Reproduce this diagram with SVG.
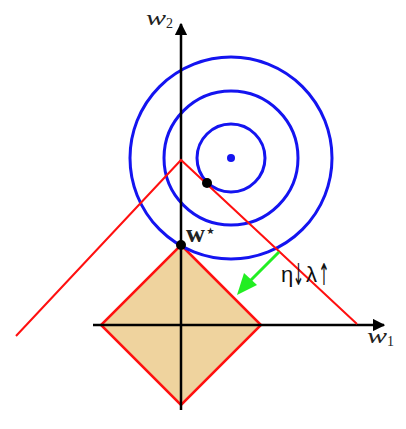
<svg xmlns="http://www.w3.org/2000/svg" width="406" height="429" viewBox="0 0 406 429">
<style>
.circ{fill:none;stroke:#1414f0;stroke-width:3}
.red{fill:none;stroke:#ff1010;stroke-width:2}
.axis{stroke:#000;stroke-width:2.5;fill:none}
.math{font-family:"Liberation Serif","DejaVu Serif",serif;font-style:italic;fill:#222}
.sub{font-family:"Liberation Serif","DejaVu Serif",serif;fill:#222}
.lbl{font-family:"Liberation Sans",Arial,sans-serif;font-size:22px;fill:#111}
.arr{font-family:"DejaVu Sans",sans-serif;font-size:30px;fill:#111}
</style>
<defs>
<marker id="ah" viewBox="0 0 10 10" refX="9" refY="5" markerWidth="5" markerHeight="5" orient="auto" markerUnits="strokeWidth">
<path d="M0,0 L10,5 L0,10 Z" fill="#000"/>
</marker>
</defs>
<g id="diamond">
<polygon points="181,245 261,325 181,405 101,325" fill="#efd39e" stroke="#ff1010" stroke-width="2.5"/>
</g>
<g id="contours">
<circle class="circ" cx="231" cy="158" r="101"/>
<circle class="circ" cx="231" cy="158" r="67"/>
<circle class="circ" cx="231" cy="158" r="34"/>
<circle cx="231" cy="158" r="4" fill="#1414f0"/>
</g>
<g id="connectors">
<line class="axis" x1="93" y1="325" x2="384" y2="325" marker-end="url(#ah)"/>
<line class="axis" x1="181" y1="410" x2="181" y2="24" marker-end="url(#ah)"/>
<polyline class="red" points="16,336 181,160 357,324"/>
<line x1="279" y1="252" x2="249" y2="282" stroke="#22ee22" stroke-width="3"/>
<polygon points="237,295 244,273 257,285" fill="#22ee22"/>
</g>
<g id="points">
<circle cx="207" cy="183" r="5" fill="#000"/>
<circle cx="181" cy="245" r="5" fill="#000"/>
</g>
<g id="labels">
<text x="186" y="242" font-family="Liberation Serif,DejaVu Serif,serif" font-weight="bold" font-size="26" fill="#222" textLength="19" lengthAdjust="spacingAndGlyphs">w</text>
<text x="210.5" y="237" text-anchor="middle" font-family="DejaVu Sans,sans-serif" font-size="19" fill="#222">⋆</text>
<text class="math" x="146" y="25" font-size="21" textLength="20" lengthAdjust="spacingAndGlyphs">w</text>
<text class="sub" x="166" y="28" font-size="14">2</text>
<text class="math" x="367" y="343" font-size="22" textLength="20" lengthAdjust="spacingAndGlyphs">w</text>
<text class="sub" x="387" y="346" font-size="14">1</text>
<text class="lbl" x="281" y="282">η</text>
<text class="lbl" x="306" y="282">λ</text>
<text class="arr" transform="translate(298.5,285) scale(0.45,1)" text-anchor="middle">↓</text>
<text class="arr" transform="translate(324,285) scale(0.45,1)" text-anchor="middle">↑</text>
</g>
</svg>
